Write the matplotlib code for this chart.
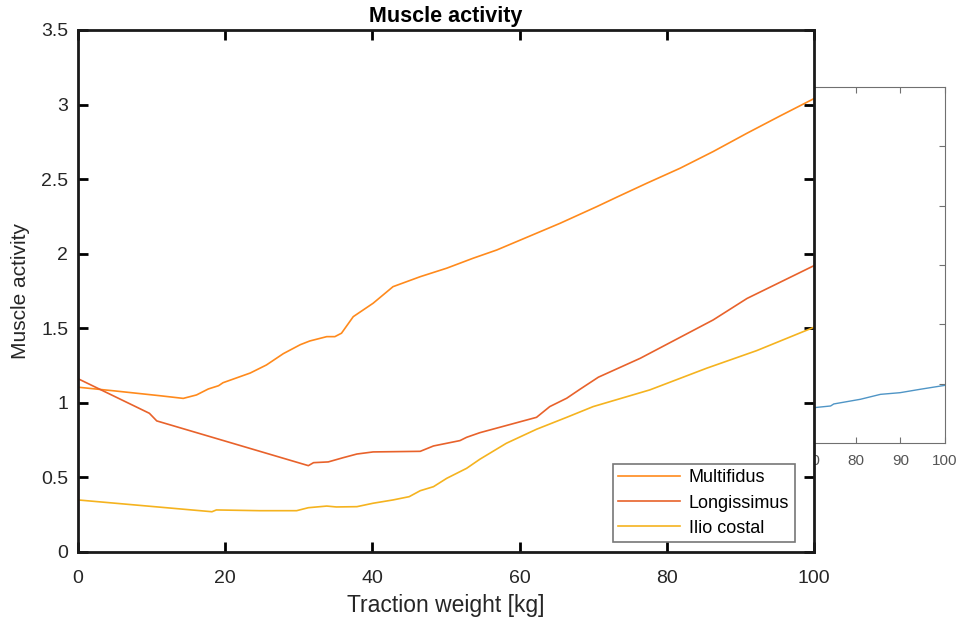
import numpy as np
import matplotlib
matplotlib.use("Agg")
import matplotlib.pyplot as plt

plt.rcParams['font.family'] = ['Liberation Sans', 'DejaVu Sans']

# traction weight [kg] and muscle activity per muscle
multi_x = [0, 5, 11.1, 14.3, 16.1, 17.7, 19.1, 19.7, 23.4, 25.6, 27.9, 30.2, 31.5,
           33.8, 34.9, 35.8, 37.4, 40.1, 42.8, 46.5, 50.1, 53.7, 56.9, 65.5,
           70.5, 73.2, 77.3, 81.8, 86.3, 90.9, 95.4, 100]
multi_y = [1.105, 1.08, 1.048, 1.03, 1.053, 1.093, 1.115, 1.135, 1.20, 1.254, 1.33,
           1.39, 1.415, 1.444, 1.444, 1.467, 1.578, 1.668, 1.779, 1.846, 1.903,
           1.97, 2.025, 2.204, 2.316, 2.379, 2.473, 2.573, 2.685, 2.808, 2.924, 3.04]

longi_x = [0, 9.7, 10.7, 31.3, 32, 34, 36, 37.9, 40.1, 46.5, 48.3, 51.9, 52.8,
           54.6, 62.3, 64.1, 66.4, 68.2, 70.7, 76.4, 86.3, 90.9, 100]
longi_y = [1.162, 0.93, 0.879, 0.579, 0.599, 0.604, 0.632, 0.657, 0.671, 0.675,
           0.711, 0.747, 0.769, 0.80, 0.903, 0.975, 1.031, 1.091, 1.172, 1.299,
           1.556, 1.70, 1.92]

ilio_x = [0, 18.2, 18.8, 24.7, 29.7, 31.3, 33.8, 35.1, 37.9, 40.1, 42.8, 45.0,
          46.5, 48.3, 50.1, 52.8, 54.6, 58.2, 62.3, 66.4, 70.0, 77.7, 85.4, 92.2, 100]
ilio_y = [0.349, 0.27, 0.282, 0.277, 0.277, 0.297, 0.308, 0.302, 0.304, 0.327,
          0.349, 0.371, 0.411, 0.438, 0.494, 0.561, 0.622, 0.729, 0.823, 0.903,
          0.975, 1.087, 1.232, 1.35, 1.507]

# figure lying behind the main one (only its right part is visible)
back_x = [70.5, 74.3, 75.0, 81.0, 85.5, 89.9, 94.4, 100]
back_y = [0.595, 0.624, 0.658, 0.737, 0.82, 0.848, 0.905, 0.972]

yticks = [0, 0.5, 1, 1.5, 2, 2.5, 3, 3.5]
ytick_labels = ['0', '0.5', '1', '1.5', '2', '2.5', '3', '3.5']
xticks = [0, 20, 40, 60, 80, 100]

fig = plt.figure(figsize=(9.61, 6.23), dpi=100)

# background axes
bax = fig.add_axes([500/961, 180/623, 445/961, 356/623])
bax.plot(back_x, back_y, color='#4f95c6', lw=1.0)
bax.set_xlim(0, 100)
bax.set_ylim(0, 6)
bax.set_xticks(range(0, 101, 10))
bax.set_yticks([1, 2, 3, 4, 5])
bax.tick_params(direction='in', top=True, right=True, colors='#707070',
                labelcolor='#555555', labelsize=11, length=4, width=0.8, pad=8)
for s in bax.spines.values():
    s.set_color('#707070')
    s.set_linewidth(0.8)

# main axes
ax = fig.add_axes([78/961, 71/623, 736/961, 522/623])
ax.set_facecolor('white')
ax.plot(multi_x, multi_y, color='#ff8a1c', lw=1.2, label='Multifidus')
ax.plot(longi_x, longi_y, color='#e8622b', lw=1.2, label='Longissimus')
ax.plot(ilio_x, ilio_y, color='#f5b31f', lw=1.2, label='Ilio costal')

ax.set_xlim(0, 100)
ax.set_ylim(0, 3.5)
ax.set_xticks(xticks)
ax.set_yticks(yticks)
ax.set_yticklabels(ytick_labels)
ax.tick_params(direction='in', top=True, right=True, length=7, width=2,
               labelsize=14, colors='black', labelcolor='#262626', pad=7)
ax.tick_params(axis='x', pad=13)
for s in ax.spines.values():
    s.set_linewidth(2)
    s.set_color('#1a1a1a')

ax.set_title('Muscle activity', fontsize=15.5, fontweight='bold', pad=6)
ax.set_xlabel('Traction weight [kg]', fontsize=16.5, color='#262626', labelpad=5)
ax.set_ylabel('Muscle activity', fontsize=15, color='#262626', labelpad=8)

leg = ax.legend(loc='upper left', bbox_to_anchor=((613-78)/736, (552-464)/522),
                borderaxespad=0, fontsize=13, fancybox=False, handlelength=3.4,
                labelspacing=0.45, borderpad=0.3, handletextpad=0.5)
leg.get_frame().set_edgecolor('#555555')
leg.get_frame().set_linewidth(1.2)

fig.savefig('out.png', dpi=100)
